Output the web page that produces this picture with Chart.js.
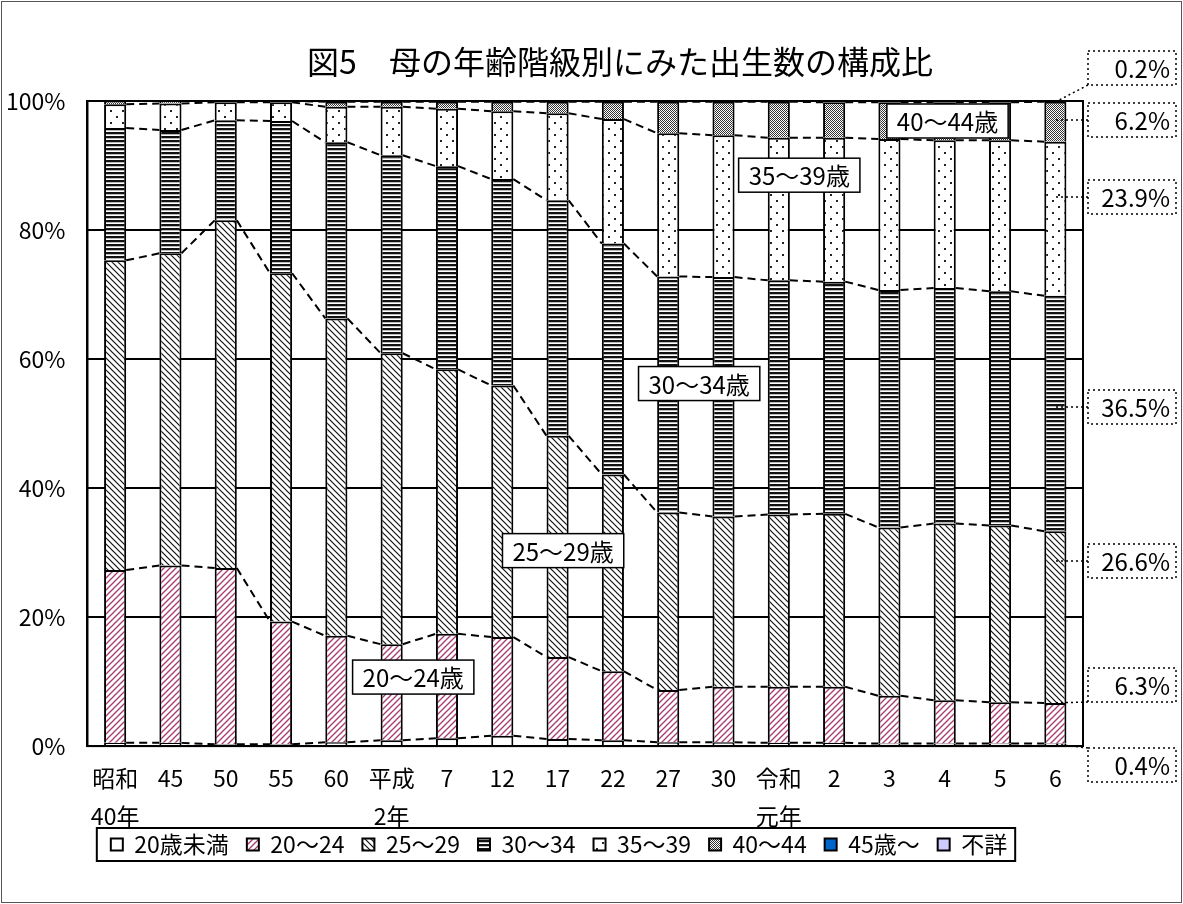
<!DOCTYPE html>
<html lang="ja">
<head>
<meta charset="utf-8">
<script src="https://cdn.jsdelivr.net/npm/chart.js@4/dist/chart.umd.min.js"></script>
<style>
  html, body { margin: 0; padding: 0; background: #fff; }
  #wrap { width: 1183px; height: 904px; }
</style>
</head>
<body>
<div id="wrap"><canvas id="birthChart" width="1183" height="904"></canvas></div>
<script>
// 年次
const categories = [['昭和', '40年'], '45', '50', '55', '60', ['平成', '2年'], '7', '12', '17', '22', '27', '30', ['令和', '元年'], '2', '3', '4', '5', '6'];

// 母の年齢階級別 構成比（%）
const under20  = [0.5, 0.5, 0.3, 0.3, 0.6, 0.9, 1.2, 1.6, 1.1, 0.9, 0.6, 0.6, 0.5, 0.5, 0.4, 0.4, 0.4, 0.4];
const age20_24 = [26.8, 27.5, 27.3, 19.0, 16.5, 14.9, 16.2, 15.3, 12.7, 10.7, 8.1, 8.6, 8.7, 8.7, 7.4, 6.7, 6.4, 6.3];
const age25_29 = [48.0, 48.4, 53.9, 54.0, 49.2, 45.1, 41.0, 39.0, 34.3, 30.5, 27.5, 26.4, 26.7, 26.8, 26.1, 27.4, 27.4, 26.6];
const age30_34 = [20.5, 19.1, 15.5, 23.6, 27.3, 30.7, 31.5, 32.0, 36.5, 35.8, 36.6, 37.1, 36.3, 36.0, 36.8, 36.5, 36.3, 36.5];
const age35_39 = [3.7, 4.1, 2.8, 2.9, 5.5, 7.5, 8.9, 10.5, 13.5, 19.3, 22.2, 22.0, 22.1, 22.3, 23.4, 22.9, 23.4, 23.9];
const age40_44 = [0.5, 0.4, 0.2, 0.2, 0.8, 0.8, 1.1, 1.5, 1.8, 2.7, 4.9, 5.2, 5.6, 5.5, 5.7, 5.9, 5.9, 6.2];
const age45up  = [0.0, 0.0, 0.0, 0.0, 0.1, 0.1, 0.1, 0.1, 0.1, 0.1, 0.1, 0.1, 0.1, 0.2, 0.2, 0.2, 0.2, 0.2];
const unknown  = [0, 0, 0, 0, 0, 0, 0, 0, 0, 0, 0, 0, 0, 0, 0, 0, 0, 0];

const legendNames = ['20歳未満', '20～24', '25～29', '30～34', '35～39', '40～44', '45歳～', '不詳'];

// グラフ内の年齢ラベル（x: 年次の位置, y: %）
const areaLabels = [
  { text: '20～24歳', x: 5.39, y: 10.7 },
  { text: '25～29歳', x: 8.10, y: 30.3 },
  { text: '30～34歳', x: 10.56, y: 56.2 },
  { text: '35～39歳', x: 12.37, y: 88.5 },
  { text: '40～44歳', x: 15.05, y: 96.9 }
];

const FONT = "'Noto Sans CJK JP', 'Noto Sans', sans-serif";
Chart.defaults.font.family = FONT;
Chart.defaults.color = '#000';

// 網掛けパターン
function makePattern(size, draw) {
  const c = document.createElement('canvas');
  c.width = size; c.height = size;
  const g = c.getContext('2d');
  g.fillStyle = '#fff';
  g.fillRect(0, 0, size, size);
  draw(g, size);
  return g.createPattern(c, 'repeat');
}
const patDiagPink = makePattern(6, (g, s) => {
  g.strokeStyle = '#a8386f'; g.lineWidth = 1.3;
  g.beginPath();
  g.moveTo(-1, s + 1); g.lineTo(s + 1, -1);
  g.moveTo(-1, 1); g.lineTo(1, -1);
  g.moveTo(s - 1, s + 1); g.lineTo(s + 1, s - 1);
  g.stroke();
});
const patDiagBlack = makePattern(6, (g, s) => {
  g.strokeStyle = '#111'; g.lineWidth = 1.2;
  g.beginPath();
  g.moveTo(-1, -1); g.lineTo(s + 1, s + 1);
  g.moveTo(s - 1, -1); g.lineTo(s + 1, 1);
  g.moveTo(-1, s - 1); g.lineTo(1, s + 1);
  g.stroke();
});
const patHoriz = makePattern(4, (g, s) => {
  g.fillStyle = '#111';
  g.fillRect(0, 0, s, 2);
  g.fillStyle = '#bbb';
  g.fillRect(0, 2, s, 1);
});
const patDots = makePattern(12, (g) => {
  g.fillStyle = '#222';
  g.fillRect(2, 2, 2, 2);
  g.fillRect(8, 8, 2, 2);
});
const patChecker = makePattern(2, (g) => {
  g.fillStyle = '#333';
  g.fillRect(0, 0, 1, 1);
  g.fillRect(1, 1, 1, 1);
});

const seriesData = [under20, age20_24, age25_29, age30_34, age35_39, age40_44, age45up, unknown];
const fills = ['#ffffff', patDiagPink, patDiagBlack, patHoriz, patDots, patChecker, '#0066cc', '#ccccff'];

const datasets = seriesData.map((d, i) => ({
  label: legendNames[i],
  data: d,
  backgroundColor: fills[i],
  borderColor: '#000',
  borderWidth: 2,
  barPercentage: 0.4,
  categoryPercentage: 1.0
}));

const decor = {
  id: 'decor',
  afterLayout(chart) {
    // 凡例を枠の位置へ寄せる
    const lg = chart.legend;
    const dx = 559 - (lg.left + lg.right) / 2;
    const dy = 815 - lg.top;
    lg.left += dx; lg.right += dx;
    lg.top += dy; lg.bottom += dy;
  },
  beforeDraw(chart) {
    const ctx = chart.ctx;
    ctx.save();
    ctx.fillStyle = '#fff';
    ctx.fillRect(0, 0, chart.width, chart.height);
    ctx.restore();
  },
  afterDatasetsDraw(chart) {
    const ctx = chart.ctx;
    const area = chart.chartArea;
    const xs = chart.scales.x, ys = chart.scales.y;
    ctx.save();

    // 区分線（破線）
    ctx.strokeStyle = '#000';
    ctx.lineWidth = 2;
    ctx.setLineDash([8, 5]);
    for (let d = 0; d < 6; d++) {
      const els = chart.getDatasetMeta(d).data;
      ctx.beginPath();
      for (let i = 0; i < els.length - 1; i++) {
        const a = els[i], b = els[i + 1];
        ctx.moveTo(a.x + a.width / 2, a.y);
        ctx.lineTo(b.x - b.width / 2, b.y);
      }
      ctx.stroke();
    }
    ctx.setLineDash([]);

    // プロットエリア枠
    ctx.lineWidth = 2;
    ctx.strokeRect(area.left, area.top, area.right - area.left, area.bottom - area.top);

    // 年齢ラベル
    ctx.font = '24px ' + FONT;
    ctx.textAlign = 'center';
    ctx.textBaseline = 'middle';
    areaLabels.forEach(l => {
      const cx = xs.getPixelForValue(l.x);
      const cy = ys.getPixelForValue(l.y);
      const w = ctx.measureText(l.text).width + 20;
      const h = 34;
      ctx.fillStyle = '#fff';
      ctx.fillRect(cx - w / 2, cy - h / 2, w, h);
      ctx.strokeStyle = '#000';
      ctx.lineWidth = 1.5;
      ctx.strokeRect(cx - w / 2, cy - h / 2, w, h);
      ctx.fillStyle = '#000';
      ctx.fillText(l.text, cx, cy + 1);
    });

    // 令和6年の数値ラベル
    const last = categories.length - 1;
    const side = [
      { ds: 6, dy: -33 },
      { ds: 5, dy: 19 },
      { ds: 4, dy: 96 },
      { ds: 3, dy: 306 },
      { ds: 2, dy: 460 },
      { ds: 1, dy: 584 },
      { ds: 0, dy: 664 }
    ];
    side.forEach(s => {
      const el = chart.getDatasetMeta(s.ds).data[last];
      const text = seriesData[s.ds][last].toFixed(1) + '%';
      const cy = area.top + s.dy;
      const bx = area.right + 5, bw = 88, bh = 34;
      const top = Math.min(el.y, el.base), bot = Math.max(el.y, el.base);
      const ty = Math.max(Math.max(top, area.top + 1), Math.min(bot - 1, cy));
      ctx.strokeStyle = '#000';
      ctx.lineWidth = 1.5;
      ctx.setLineDash([2, 3]);
      ctx.beginPath();
      ctx.moveTo(bx, Math.max(cy - bh / 2, Math.min(cy + bh / 2, ty)));
      ctx.lineTo(el.x, ty);
      ctx.stroke();
      ctx.strokeRect(bx, cy - bh / 2, bw, bh);
      ctx.setLineDash([]);
      ctx.fillStyle = '#000';
      ctx.textAlign = 'right';
      ctx.fillText(text, bx + bw - 6, cy + 1);
    });
    ctx.restore();
  },
  afterDraw(chart) {
    const ctx = chart.ctx;
    ctx.save();
    // タイトル
    ctx.fillStyle = '#000';
    ctx.font = '32px ' + FONT;
    ctx.textAlign = 'center';
    ctx.textBaseline = 'middle';
    ctx.fillText('図5　母の年齢階級別にみた出生数の構成比', 620, 62);

    // 凡例枠
    const boxes = chart.legend.legendHitBoxes;
    if (boxes && boxes.length) {
      const l = Math.min(...boxes.map(b => b.left)) - 14;
      const r = Math.max(...boxes.map(b => b.left + b.width)) + 8;
      const t = Math.min(...boxes.map(b => b.top)) - 5;
      const b = Math.max(...boxes.map(b => b.top + b.height)) + 5;
      ctx.strokeStyle = '#000';
      ctx.lineWidth = 2;
      ctx.strokeRect(l, t, r - l, b - t);
    }

    // 外枠
    ctx.strokeStyle = '#555';
    ctx.lineWidth = 1;
    ctx.strokeRect(1.5, 1.5, chart.width - 3, chart.height - 3);
    ctx.restore();
  }
};

new Chart(document.getElementById('birthChart'), {
  type: 'bar',
  data: { labels: categories, datasets: datasets },
  options: {
    responsive: false,
    animation: false,
    layout: { padding: { top: 101, left: -16, right: 100, bottom: 5 } },
    plugins: {
      title: { display: false },
      tooltip: { enabled: false },
      legend: {
        position: 'bottom',
        labels: {
          boxWidth: 12,
          boxHeight: 12,
          padding: 18,
          color: '#000',
          font: { size: 23 }
        }
      }
    },
    scales: {
      x: {
        stacked: true,
        grid: { display: false, drawTicks: false },
        border: { color: '#000', width: 2 },
        ticks: {
          color: '#000',
          font: { size: 23, lineHeight: 1.65 },
          padding: 13,
          maxRotation: 0,
          autoSkip: false
        }
      },
      y: {
        stacked: true,
        min: 0,
        max: 100,
        grid: { color: '#000', lineWidth: 2, drawTicks: false },
        border: { color: '#000', width: 2 },
        ticks: {
          stepSize: 20,
          padding: 22,
          color: '#000',
          font: { size: 23 },
          callback: v => v + '%'
        }
      }
    }
  },
  plugins: [decor]
});
</script>
</body>
</html>
